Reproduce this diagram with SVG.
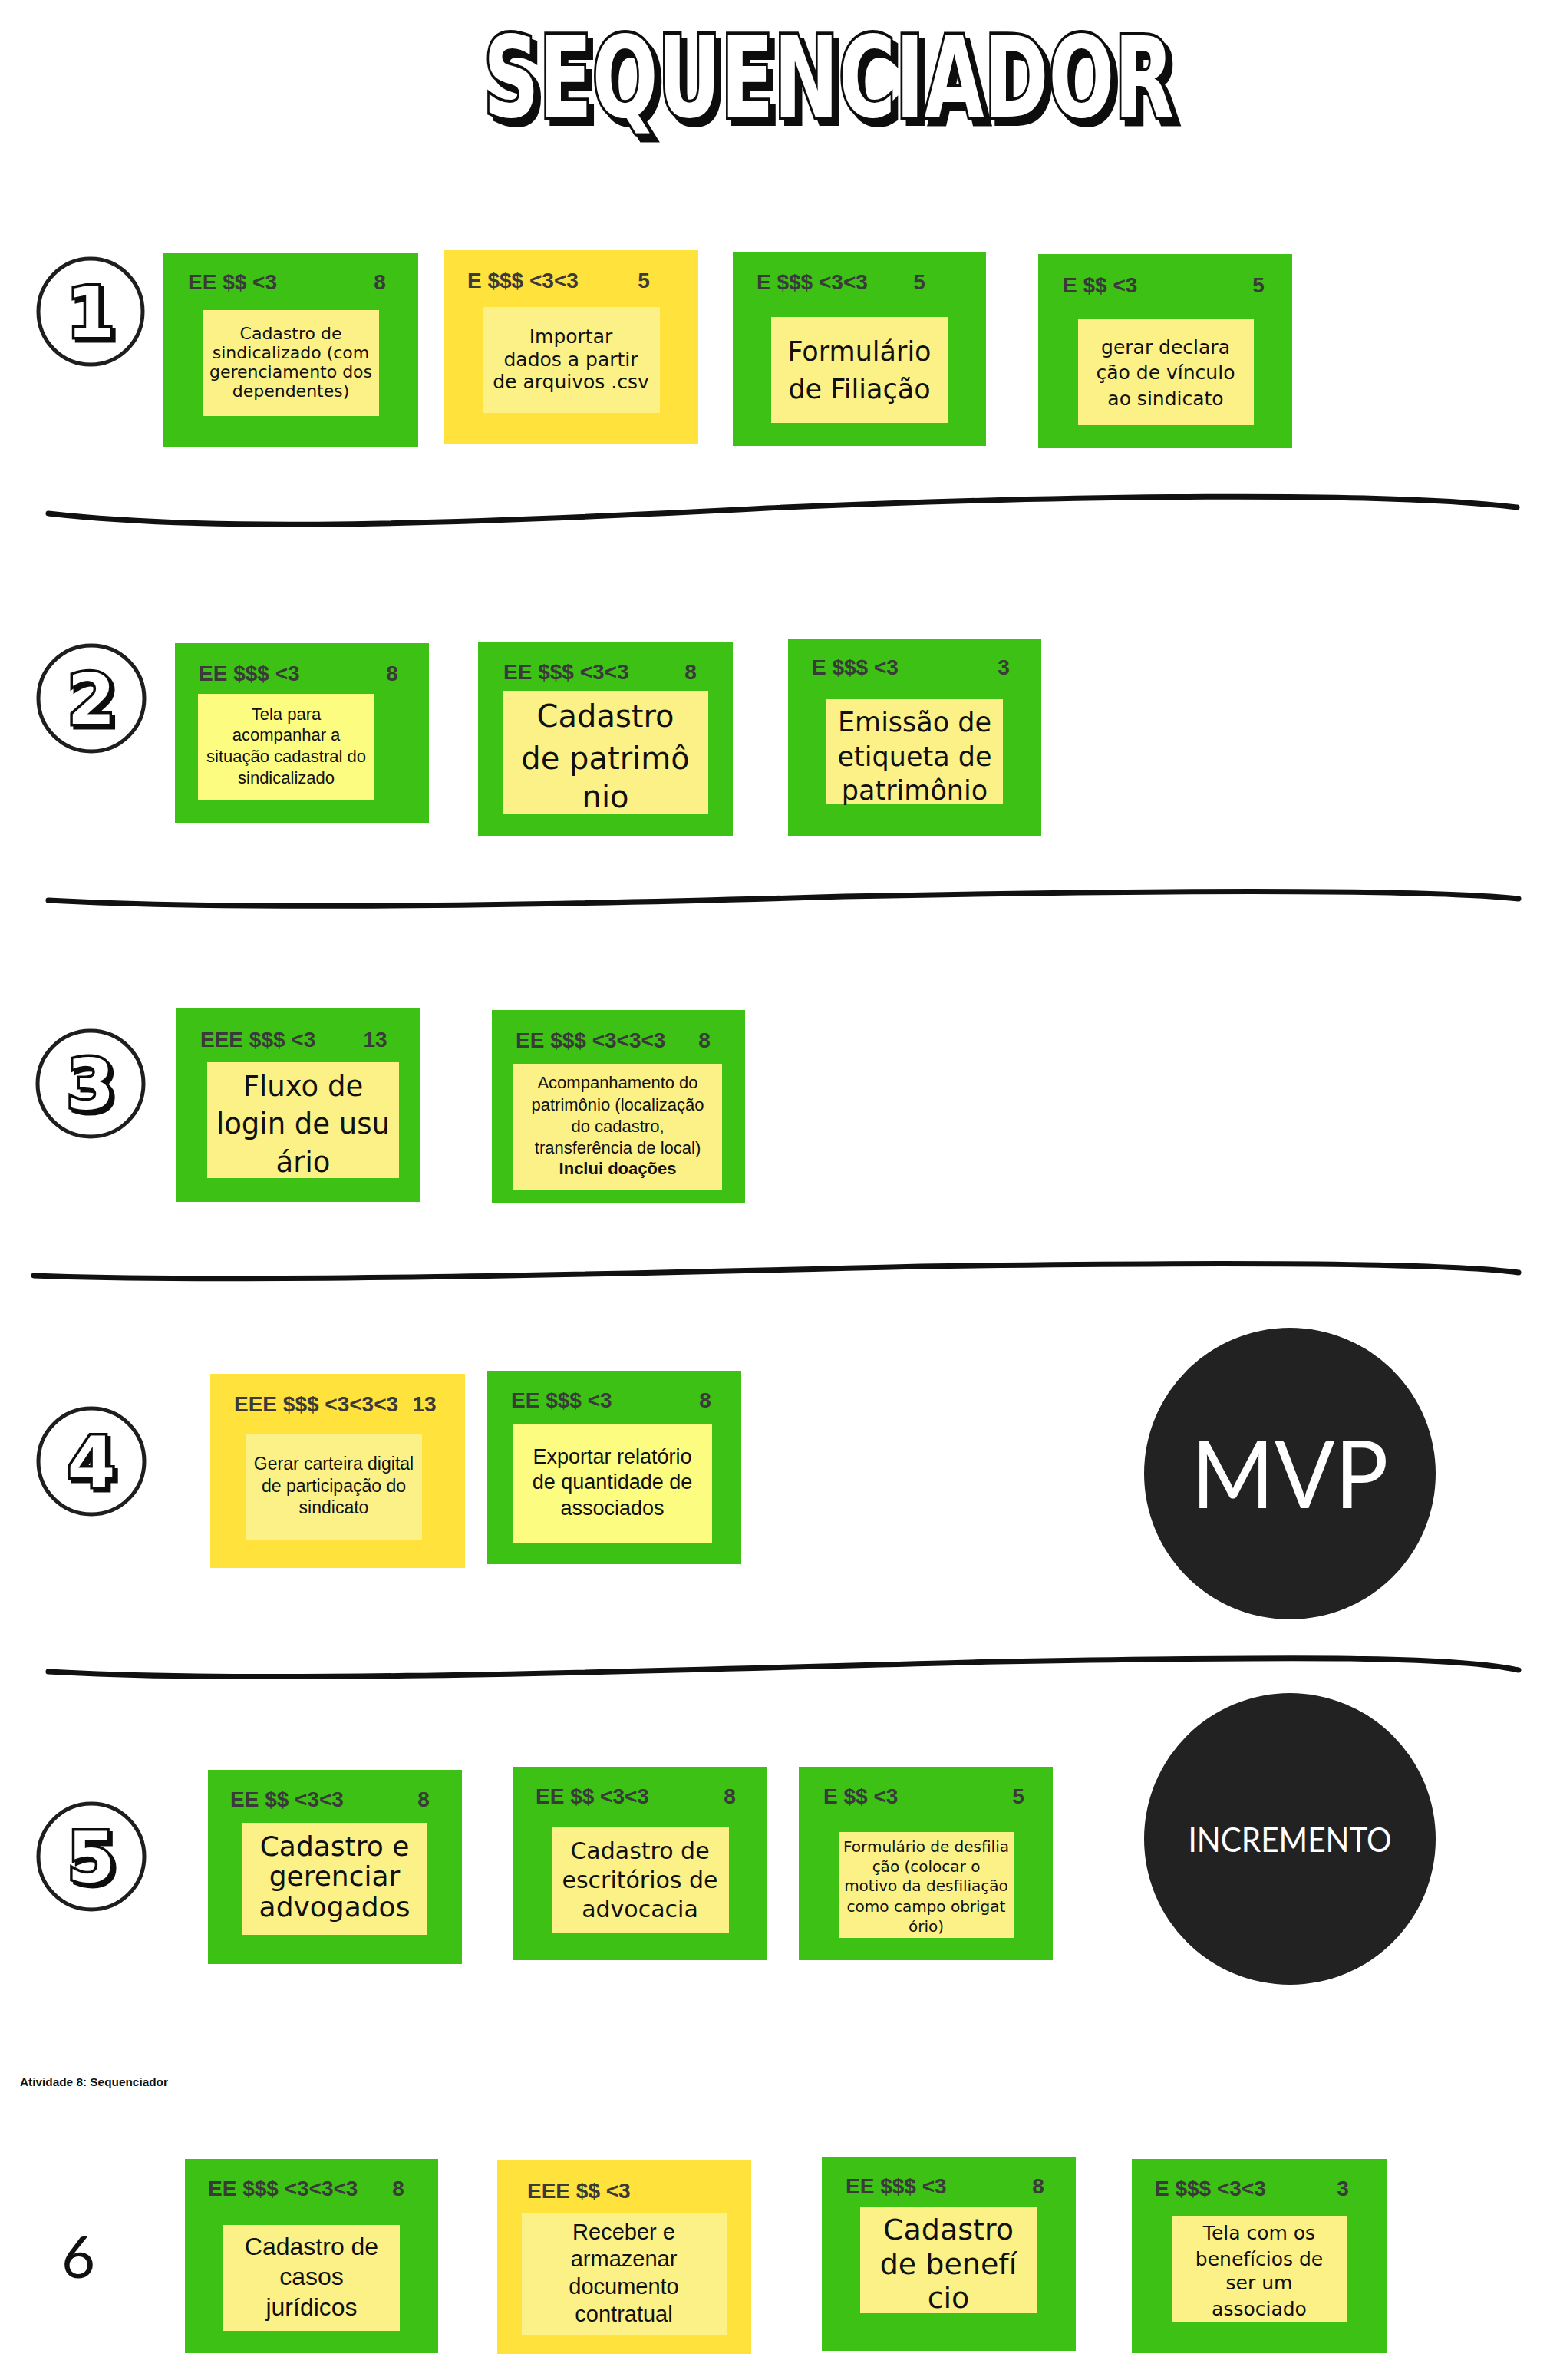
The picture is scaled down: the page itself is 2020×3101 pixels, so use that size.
<svg xmlns="http://www.w3.org/2000/svg" width="2020" height="3101" viewBox="0 0 2020 3101">
<defs>
<filter id="shadow" x="-10%" y="-20%" width="130%" height="150%">
<feOffset in="SourceAlpha" dx="7" dy="8" result="off"/>
<feFlood flood-color="#111111"/>
<feComposite in2="off" operator="in" result="sh"/>
<feMerge><feMergeNode in="sh"/><feMergeNode in="SourceGraphic"/></feMerge>
</filter>
<filter id="dshadow" x="-30%" y="-30%" width="170%" height="170%">
<feOffset in="SourceAlpha" dx="4" dy="4" result="off"/>
<feFlood flood-color="#111111"/>
<feComposite in2="off" operator="in" result="sh"/>
<feMerge><feMergeNode in="sh"/><feMergeNode in="SourceGraphic"/></feMerge>
</filter>
</defs>
<style>
.bg{fill:#ffffff}
.g{fill:#3cc114}
.y{fill:#ffe23c}
.p{fill:#fbf186}
.pb{fill:#fcfc80}
.h{font-family:'Liberation Sans',Arial,sans-serif;font-weight:bold;font-size:28px;fill:#3a3a3a}
.hn{font-family:'Liberation Sans',Arial,sans-serif;font-weight:bold;font-size:28px;fill:#3a3a3a;text-anchor:middle}
.c{font-family:'DejaVu Sans',Verdana,sans-serif;fill:#111111;text-anchor:middle}
.s{font-family:'Liberation Sans',Arial,sans-serif;fill:#111111;text-anchor:middle}
.ring{fill:none;stroke:#1e1e1e;stroke-width:5}
.dig{font-family:'DejaVu Sans',sans-serif;font-weight:bold;font-size:90px;text-anchor:middle;fill:#ffffff;stroke:#111111;stroke-width:7;paint-order:stroke}
.sep{fill:none;stroke:#111111;stroke-width:7;stroke-linecap:round}
.big{fill:#222222}
.wt{font-family:Lato,'Liberation Sans',sans-serif;fill:#ffffff;text-anchor:middle}
</style>
<rect class="bg" x="0" y="0" width="2020" height="3101"/>

<g id="title">
<text x="630" y="152" font-family="'DejaVu Sans',sans-serif" font-weight="bold" font-size="147" textLength="900" lengthAdjust="spacingAndGlyphs" fill="#fff" stroke="#111" stroke-width="8" paint-order="stroke" filter="url(#shadow)">SEQUENCIADOR</text>
</g>

<g id="connectors">
<path class="sep" d="M63,669 C250,690 500,688 1000,662 C1400,645 1800,640 1977,661"/>
<path class="sep" d="M63,1173 C300,1186 700,1180 1100,1168 C1500,1160 1850,1158 1979,1171"/>
<path class="sep" d="M44,1662 C300,1672 800,1660 1200,1650 C1600,1644 1880,1645 1979,1658"/>
<path class="sep" d="M63,2178 C350,2195 900,2175 1300,2165 C1700,2158 1900,2158 1979,2176"/>
</g>

<g id="step1">
<ellipse class="ring" cx="118" cy="406" rx="68" ry="69"/>
<text class="dig" x="118" y="439" filter="url(#dshadow)">1</text>
</g>
<g id="step2">
<ellipse class="ring" cx="119" cy="910" rx="69" ry="69"/>
<text class="dig" x="119" y="943" filter="url(#dshadow)">2</text>
</g>
<g id="step3">
<ellipse class="ring" cx="118" cy="1412" rx="69" ry="69"/>
<text class="dig" x="118" y="1445" filter="url(#dshadow)">3</text>
</g>
<g id="step4">
<ellipse class="ring" cx="119" cy="1904" rx="69" ry="69"/>
<text class="dig" x="119" y="1937" filter="url(#dshadow)">4</text>
</g>
<g id="step5">
<ellipse class="ring" cx="119" cy="2419" rx="69" ry="69"/>
<text class="dig" x="119" y="2452" filter="url(#dshadow)">5</text>
</g>
<g id="step6">
<text x="102" y="2968" font-family="Lato,'Liberation Sans',sans-serif" font-size="76" fill="#111" text-anchor="middle">6</text>
</g>

<!-- Row 1 -->
<g id="r1c1">
<rect class="g" x="213" y="330" width="332" height="252"/>
<text class="h" x="245" y="377">EE $$ &lt;3</text><text class="hn" x="495" y="377">8</text>
<rect class="p" x="264" y="404" width="230" height="138"/>
<text class="c" font-size="22" x="379"><tspan x="379" y="442">Cadastro de</tspan><tspan x="379" y="467">sindicalizado (com</tspan><tspan x="379" y="492">gerenciamento dos</tspan><tspan x="379" y="517">dependentes)</tspan></text>
</g>
<g id="r1c2">
<rect class="y" x="579" y="326" width="331" height="253"/>
<text class="h" x="609" y="375">E $$$ &lt;3&lt;3</text><text class="hn" x="839" y="375">5</text>
<rect class="p" x="629" y="400" width="231" height="138"/>
<text class="c" font-size="25" x="744"><tspan x="744" y="447">Importar</tspan><tspan x="744" y="477">dados a partir</tspan><tspan x="744" y="506">de arquivos .csv</tspan></text>
</g>
<g id="r1c3">
<rect class="g" x="955" y="328" width="330" height="253"/>
<text class="h" x="986" y="377">E $$$ &lt;3&lt;3</text><text class="hn" x="1198" y="377">5</text>
<rect class="p" x="1005" y="413" width="230" height="138"/>
<text class="c" font-size="35" x="1120"><tspan x="1120" y="470">Formulário</tspan><tspan x="1120" y="519">de Filiação</tspan></text>
</g>
<g id="r1c4">
<rect class="g" x="1353" y="331" width="331" height="253"/>
<text class="h" x="1385" y="381">E $$ &lt;3</text><text class="hn" x="1640" y="381">5</text>
<rect class="p" x="1405" y="416" width="229" height="138"/>
<text class="c" font-size="25" x="1519"><tspan x="1519" y="461">gerar declara</tspan><tspan x="1519" y="494">ção de vínculo</tspan><tspan x="1519" y="528">ao sindicato</tspan></text>
</g>

<!-- Row 2 -->
<g id="r2c1">
<rect class="g" x="228" y="838" width="331" height="234"/>
<text class="h" x="259" y="887">EE $$$ &lt;3</text><text class="hn" x="511" y="887">8</text>
<rect class="pb" x="258" y="904" width="230" height="138"/>
<text class="s" font-size="22" x="373"><tspan x="373" y="938">Tela para</tspan><tspan x="373" y="965">acompanhar a</tspan><tspan x="373" y="993">situação cadastral do</tspan><tspan x="373" y="1021">sindicalizado</tspan></text>
</g>
<g id="r2c2">
<rect class="g" x="623" y="837" width="332" height="252"/>
<text class="h" x="656" y="885">EE $$$ &lt;3&lt;3</text><text class="hn" x="900" y="885">8</text>
<rect class="p" x="655" y="900" width="268" height="160"/>
<text class="c" font-size="40" x="789"><tspan x="789" y="947">Cadastro</tspan><tspan x="789" y="1002">de patrimô</tspan><tspan x="789" y="1052">nio</tspan></text>
</g>
<g id="r2c3">
<rect class="g" x="1027" y="832" width="330" height="257"/>
<text class="h" x="1058" y="879">E $$$ &lt;3</text><text class="hn" x="1308" y="879">3</text>
<rect class="p" x="1077" y="911" width="230" height="137"/>
<text class="c" font-size="35" x="1192"><tspan x="1192" y="953">Emissão de</tspan><tspan x="1192" y="998">etiqueta de</tspan><tspan x="1192" y="1042">patrimônio</tspan></text>
</g>

<!-- Row 3 -->
<g id="r3c1">
<rect class="g" x="230" y="1314" width="317" height="252"/>
<text class="h" x="261" y="1364">EEE $$$ &lt;3</text><text class="hn" x="489" y="1364">13</text>
<rect class="p" x="270" y="1384" width="250" height="151"/>
<text class="c" font-size="37" x="395"><tspan x="395" y="1428">Fluxo de</tspan><tspan x="395" y="1477">login de usu</tspan><tspan x="395" y="1527">ário</tspan></text>
</g>
<g id="r3c2">
<rect class="g" x="641" y="1316" width="330" height="252"/>
<text class="h" x="672" y="1365">EE $$$ &lt;3&lt;3&lt;3</text><text class="hn" x="918" y="1365">8</text>
<rect class="p" x="668" y="1386" width="273" height="164"/>
<text class="s" font-size="22" x="805"><tspan x="805" y="1418">Acompanhamento do</tspan><tspan x="805" y="1447">patrimônio (localização</tspan><tspan x="805" y="1475">do cadastro,</tspan><tspan x="805" y="1503">transferência de local)</tspan><tspan x="805" y="1530" font-weight="bold">Inclui doações</tspan></text>
</g>

<!-- Row 4 -->
<g id="r4c1">
<rect class="y" x="274" y="1790" width="332" height="253"/>
<text class="h" x="305" y="1839">EEE $$$ &lt;3&lt;3&lt;3</text><text class="hn" x="553" y="1839">13</text>
<rect class="p" x="320" y="1868" width="230" height="138"/>
<text class="s" font-size="23" x="435"><tspan x="435" y="1915">Gerar carteira digital</tspan><tspan x="435" y="1944">de participação do</tspan><tspan x="435" y="1972">sindicato</tspan></text>
</g>
<g id="r4c2">
<rect class="g" x="635" y="1786" width="331" height="252"/>
<text class="h" x="666" y="1834">EE $$$ &lt;3</text><text class="hn" x="919" y="1834">8</text>
<rect class="pb" x="669" y="1855" width="259" height="155"/>
<text class="s" font-size="27" x="798"><tspan x="798" y="1907">Exportar relatório</tspan><tspan x="798" y="1940">de quantidade de</tspan><tspan x="798" y="1974">associados</tspan></text>
</g>
<g id="mvp">
<circle class="big" cx="1681" cy="1920" r="190"/>
<text class="wt" x="1681" y="1965" font-size="123" textLength="257" lengthAdjust="spacingAndGlyphs">MVP</text>
</g>

<!-- Row 5 -->
<g id="r5c1">
<rect class="g" x="271" y="2306" width="331" height="253"/>
<text class="h" x="300" y="2354">EE $$ &lt;3&lt;3</text><text class="hn" x="552" y="2354">8</text>
<rect class="p" x="316" y="2375" width="241" height="146"/>
<text class="c" font-size="36" x="436"><tspan x="436" y="2418">Cadastro e</tspan><tspan x="436" y="2457">gerenciar</tspan><tspan x="436" y="2497">advogados</tspan></text>
</g>
<g id="r5c2">
<rect class="g" x="669" y="2302" width="331" height="252"/>
<text class="h" x="698" y="2350">EE $$ &lt;3&lt;3</text><text class="hn" x="951" y="2350">8</text>
<rect class="p" x="719" y="2381" width="231" height="138"/>
<text class="c" font-size="30" x="834"><tspan x="834" y="2422">Cadastro de</tspan><tspan x="834" y="2460">escritórios de</tspan><tspan x="834" y="2498">advocacia</tspan></text>
</g>
<g id="r5c3">
<rect class="g" x="1041" y="2302" width="331" height="252"/>
<text class="h" x="1073" y="2350">E $$ &lt;3</text><text class="hn" x="1327" y="2350">5</text>
<rect class="p" x="1093" y="2387" width="229" height="138"/>
<text class="c" font-size="20" x="1207"><tspan x="1207" y="2413">Formulário de desfilia</tspan><tspan x="1207" y="2439">ção (colocar o</tspan><tspan x="1207" y="2464">motivo da desfiliação</tspan><tspan x="1207" y="2491">como campo obrigat</tspan><tspan x="1207" y="2517">ório)</tspan></text>
</g>
<g id="incremento">
<circle class="big" cx="1681" cy="2396" r="190"/>
<text class="wt" x="1681" y="2413" font-size="44" textLength="265" lengthAdjust="spacingAndGlyphs">INCREMENTO</text>
</g>

<g id="caption">
<text x="26" y="2718" font-family="'Liberation Sans',Arial,sans-serif" font-weight="bold" font-size="15" fill="#111" textLength="193" lengthAdjust="spacingAndGlyphs">Atividade 8: Sequenciador</text>
</g>

<!-- Row 6 -->
<g id="r6c1">
<rect class="g" x="241" y="2813" width="330" height="253"/>
<text class="h" x="271" y="2861">EE $$$ &lt;3&lt;3&lt;3</text><text class="hn" x="519" y="2861">8</text>
<rect class="p" x="291" y="2899" width="230" height="138"/>
<text class="s" font-size="32" x="406"><tspan x="406" y="2938">Cadastro de</tspan><tspan x="406" y="2977">casos</tspan><tspan x="406" y="3017">jurídicos</tspan></text>
</g>
<g id="r6c2">
<rect class="y" x="648" y="2815" width="331" height="252"/>
<text class="h" x="687" y="2864">EEE $$ &lt;3</text>
<rect class="p" x="680" y="2883" width="267" height="160"/>
<text class="s" font-size="29" x="813"><tspan x="813" y="2918">Receber e</tspan><tspan x="813" y="2953">armazenar</tspan><tspan x="813" y="2989">documento</tspan><tspan x="813" y="3025">contratual</tspan></text>
</g>
<g id="r6c3">
<rect class="g" x="1071" y="2810" width="331" height="253"/>
<text class="h" x="1102" y="2858">EE $$$ &lt;3</text><text class="hn" x="1353" y="2858">8</text>
<rect class="p" x="1121" y="2876" width="231" height="138"/>
<text class="c" font-size="38" x="1236"><tspan x="1236" y="2918">Cadastro</tspan><tspan x="1236" y="2963">de benefí</tspan><tspan x="1236" y="3007">cio</tspan></text>
</g>
<g id="r6c4">
<rect class="g" x="1475" y="2813" width="332" height="253"/>
<text class="h" x="1505" y="2861">E $$$ &lt;3&lt;3</text><text class="hn" x="1750" y="2861">3</text>
<rect class="p" x="1527" y="2887" width="228" height="138"/>
<text class="c" font-size="25" x="1641"><tspan x="1641" y="2918">Tela com os</tspan><tspan x="1641" y="2952">benefícios de</tspan><tspan x="1641" y="2983">ser um</tspan><tspan x="1641" y="3017">associado</tspan></text>
</g>
</svg>
